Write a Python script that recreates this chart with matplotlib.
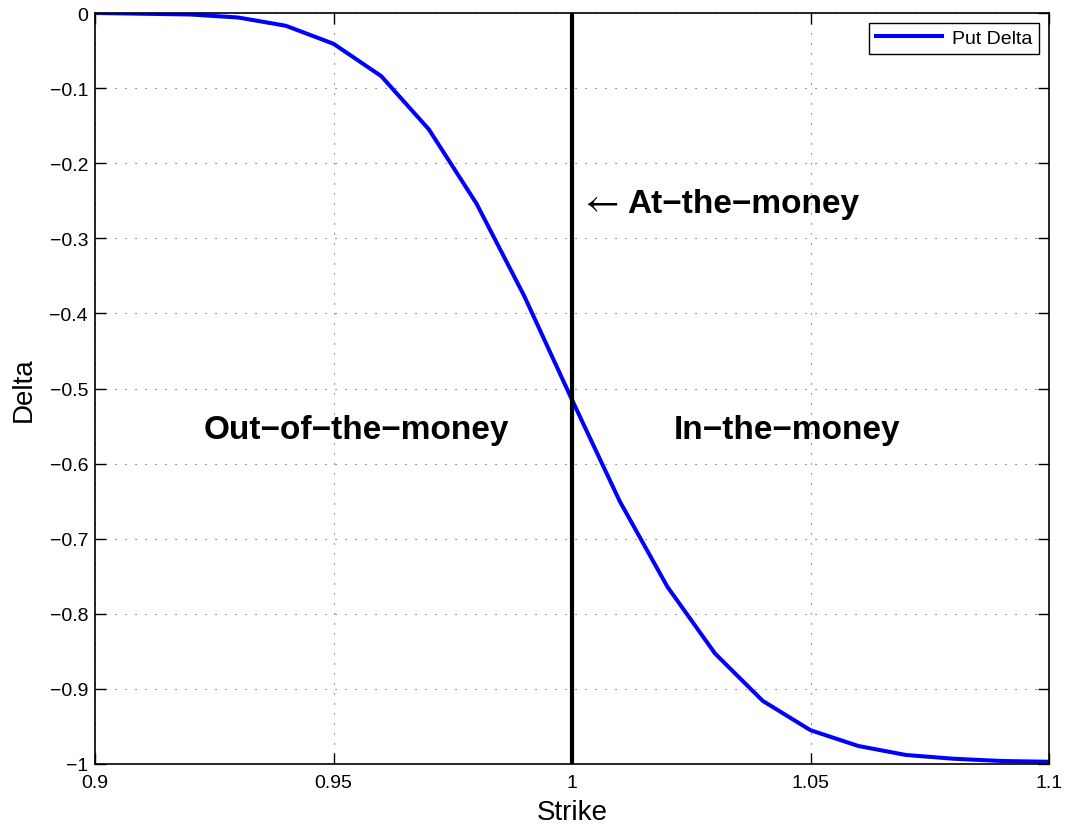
import numpy as np
import matplotlib.pyplot as plt

plt.rcParams['font.family'] = ['Liberation Sans', 'DejaVu Sans']

strike = [0.90, 0.91, 0.92, 0.93, 0.94, 0.95, 0.96, 0.97, 0.98, 0.99, 1.00,
          1.01, 1.02, 1.03, 1.04, 1.05, 1.06, 1.07, 1.08, 1.09, 1.10]
put_delta = [-0.000, -0.001, -0.002, -0.006, -0.017, -0.041, -0.084, -0.155,
             -0.254, -0.377, -0.515, -0.650, -0.764, -0.853, -0.916, -0.955,
             -0.976, -0.988, -0.993, -0.996, -0.997]
atm_strike = 1.0

fig = plt.figure(figsize=(10.7, 8.29), dpi=100)
ax = fig.add_axes([95/1070, 1 - 765/829, (1049-95)/1070, (765-14)/829])

ax.plot(strike, put_delta, color='#0000ff', lw=2.9, label='Put Delta')
ax.axvline(atm_strike, color='black', lw=3)

ax.set_xlim(0.9, 1.1)
ax.set_ylim(-1, 0)
ax.set_xticks([0.9, 0.95, 1.0, 1.05, 1.1])
ax.set_xticklabels(['0.9', '0.95', '1', '1.05', '1.1'])
ax.set_yticks(np.arange(-1, 0.01, 0.1))
ax.set_yticklabels(['\u22121', '\u22120.9', '\u22120.8', '\u22120.7', '\u22120.6',
                    '\u22120.5', '\u22120.4', '\u22120.3', '\u22120.2', '\u22120.1', '0'])
ax.tick_params(direction='in', length=8, labelsize=14, top=True, right=True, width=1)
ax.tick_params(axis='x', pad=7)
ax.tick_params(axis='y', pad=5)
ax.grid(True, linestyle=(0, (1, 8)), color='black', lw=0.8, alpha=0.7)
for s in ax.spines.values():
    s.set_linewidth(1.2)

ax.set_xlabel('Strike', fontsize=20, labelpad=6)
ax.set_ylabel('Delta', fontsize=20, labelpad=9)

ax.text(0.9549, -0.554, 'Out\u2212of\u2212the\u2212money', fontsize=24, fontweight='bold',
        ha='center', va='center')
ax.text(1.045, -0.554, 'In\u2212the\u2212money', fontsize=24, fontweight='bold',
        ha='center', va='center')
ax.text(1.0014, -0.251, r'$\leftarrow$', fontsize=27, math_fontfamily='stix',
        ha='left', va='center')
ax.text(1.0115, -0.254, 'At\u2212the\u2212money', fontsize=24, fontweight='bold',
        ha='left', va='center')

leg = ax.legend(loc='upper right', fontsize=14, fancybox=False, edgecolor='black',
                framealpha=1, borderaxespad=0.5, handlelength=3.4,
                borderpad=0.35, handletextpad=0.5)
leg.get_frame().set_linewidth(1)

fig.savefig('out.png', dpi=100)
